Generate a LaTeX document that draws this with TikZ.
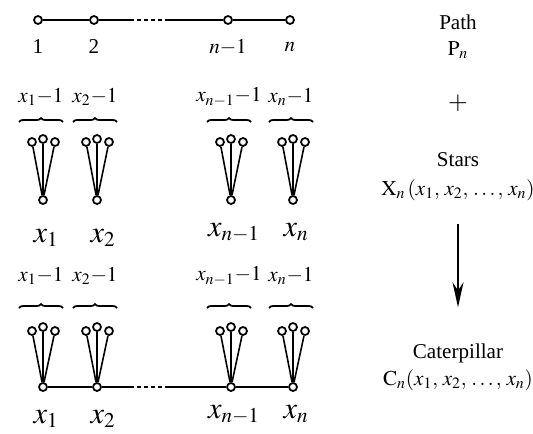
\documentclass[tikz,border=0pt]{standalone}
\usepackage{mathptmx}
\usepackage{fontspec}
\setmainfont{Liberation Serif}
\usepackage{tikz}
\usetikzlibrary{arrows.meta, positioning, decorations.pathreplacing}
\tikzset{
  vtx/.style={circle, draw, fill=white, inner sep=0pt,
    minimum size=0.16cm, line width=1pt},
  edge/.style={line width=1pt},
  gap/.style={line width=1pt, dash pattern=on 0.08cm off 0.06cm},
  leaf/.style={line width=0.9pt},
  brc/.style={decorate, decoration={brace, amplitude=0.08cm}, line width=1pt},
  lbl/.style={font=\large},
  big/.style={font=\LARGE, anchor=base},
  txt/.style={font=\large, align=center},
  arrow/.style={-{Stealth[length=0.5cm, width=0.22cm]}, line width=1pt}
}

\begin{document}
\begin{tikzpicture}[x=0.02cm, y=-0.02cm]
  \useasboundingbox (0,0) rectangle (533,433);

  % path P_n
  \node[vtx] (p1) at (38,20) {};
  \node[vtx] (p2) at (94,20) {};
  \node[vtx] (p3) at (228,20) {};
  \node[vtx] (p4) at (290,20) {};
  \coordinate (pa) at (130,20);
  \coordinate (pb) at (165,20);
  \draw[edge] (p1) -- (p2) -- (pa);
  \draw[gap] (pa) -- (pb);
  \draw[edge] (pb) -- (p3) -- (p4);
  \node[lbl] (l1) at (38,47) {1};
  \node[lbl] (l2) at (94,47) {2};
  \node[lbl] (l3) at (228,47) {$n{-}1$};
  \node[lbl] (l4) at (290,47) {$n$};

  % stars X_n
  \foreach \i/\cx/\lx/\ly/\sub in {1/43/46/242/1, 2/97/103/242/2,
      3/231/234/236/{n-1}, 4/293/296/236/n} {
    \node[vtx] (s\i) at (\cx,200) {};
    \node[vtx] (s\i a) at (\cx-11,142) {};
    \node[vtx] (s\i b) at (\cx,139) {};
    \node[vtx] (s\i c) at (\cx+12,142) {};
    \draw[leaf] (s\i) -- (s\i a) (s\i) -- (s\i b) (s\i) -- (s\i c);
    \draw[brc] (\cx-24,122) -- (\cx+20,122);
    \node[lbl] (k\i) at (\cx-2,97) {$x_{\sub}{-}1$};
    \node[big] (x\i) at (\lx,\ly) {$x_{\sub}$};
  }

  % caterpillar C_n
  \foreach \i/\cx/\lx/\ly/\sub in {1/43/46/423/1, 2/97/103/423/2,
      3/231/234/418/{n-1}, 4/293/296/418/n} {
    \node[vtx] (c\i) at (\cx,387) {};
    \node[vtx] (c\i a) at (\cx-11,331) {};
    \node[vtx] (c\i b) at (\cx,327) {};
    \node[vtx] (c\i c) at (\cx+12,331) {};
    \draw[leaf] (c\i) -- (c\i a) (c\i) -- (c\i b) (c\i) -- (c\i c);
    \draw[brc] (\cx-24,308) -- (\cx+20,308);
    \node[lbl] (m\i) at (\cx-2,276) {$x_{\sub}{-}1$};
    \node[big] (y\i) at (\lx,\ly) {$x_{\sub}$};
  }
  \coordinate (ca) at (130,387);
  \coordinate (cb) at (165,387);
  \draw[edge] (c1) -- (c2) -- (ca);
  \draw[gap] (ca) -- (cb);
  \draw[edge] (cb) -- (c3) -- (c4);

  % right column
  \node[txt] (path) at (458,22) {Path};
  \node[txt] (pn) at (458,50) {$\mathrm{P}_n$};
  \node[font=\Large] (plus) at (458,103) {$+$};
  \node[txt] (stars) at (458,160) {Stars};
  \node[txt] (xn) at (458,190) {$\mathrm{X}_n\,(x_1,\,x_2,\,\ldots,\,x_n)$};
  \node[txt] (cat) at (458,353) {Caterpillar};
  \node[txt] (cn) at (458,380) {$\mathrm{C}_n(x_1,\,x_2,\,\ldots,\,x_n)$};
  \draw[arrow, shorten <=0.34cm, shorten >=0.6cm] (xn) -- (cat);
\end{tikzpicture}
\end{document}
